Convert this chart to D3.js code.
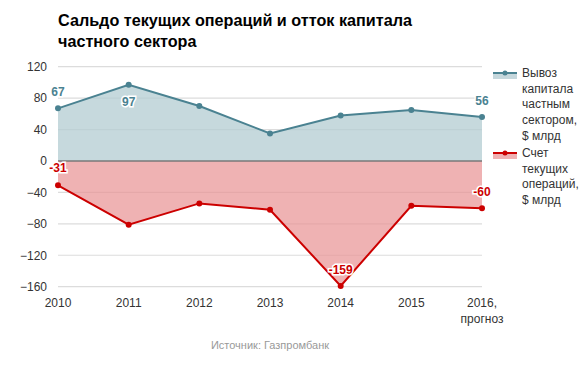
<!DOCTYPE html>
<html>
<head>
<meta charset="utf-8">
<script src="https://cdnjs.cloudflare.com/ajax/libs/d3/7.8.5/d3.min.js"></script>
<style>
  body { margin: 0; background: #fff; }
  text { font-family: "Liberation Sans", Arial, sans-serif; }
</style>
</head>
<body>
<script>
// data
var years = ["2010", "2011", "2012", "2013", "2014", "2015", "2016"];
var yearLabels = [["2010"], ["2011"], ["2012"], ["2013"], ["2014"], ["2015"], ["2016,", "прогноз"]];
var capitalOutflow = [67, 97, 70, 35, 58, 65, 56];
var currentAccount = [-31, -81, -54, -62, -159, -57, -60];
var yTicks = [120, 80, 40, 0, -40, -80, -120, -160];

var legendOutflow = ["Вывоз", "капитала", "частным", "сектором,", "$ млрд"];
var legendAccount = ["Счет", "текущих", "операций,", "$ млрд"];

// sizes
var width = 587, height = 367;
var plot = { left: 58, right: 482, top: 66.7, bottom: 286.7 };

var svg = d3.select("body")
            .append("svg")
            .attr("width", width)
            .attr("height", height);

// title
svg.append("text")
   .attr("x", 58).attr("y", 26)
   .style("font-weight", "bold").style("font-size", "16.2px")
   .text("Сальдо текущих операций и отток капитала");
svg.append("text")
   .attr("x", 58).attr("y", 46.5)
   .style("font-weight", "bold").style("font-size", "16.2px")
   .text("частного сектора");

// scales
var x = d3.scalePoint().domain(years).range([plot.left, plot.right]);
var y = d3.scaleLinear().domain([-160, 120]).range([plot.bottom, plot.top]);

// grid
svg.append("g")
   .selectAll("line")
   .data(yTicks)
   .enter()
   .append("line")
   .attr("x1", plot.left).attr("x2", plot.right)
   .attr("y1", function(d) { return y(d); })
   .attr("y2", function(d) { return y(d); })
   .attr("stroke", "#dcdcdc")
   .attr("stroke-width", 1.2);

// y axis labels
var yAxis = d3.axisLeft(y).tickValues(yTicks).tickSize(0).tickPadding(11);
var gy = svg.append("g")
            .attr("transform", "translate(" + plot.left + ",0)")
            .call(yAxis);
gy.select(".domain").remove();
gy.selectAll("text")
  .style("font-size", "12px").attr("fill", "#333")
  .style("font-family", "Liberation Sans, Arial, sans-serif");

// areas
var areaOut = d3.area()
                .x(function(d, i) { return x(years[i]); })
                .y0(y(0))
                .y1(function(d) { return y(d); });

svg.append("path")
   .datum(capitalOutflow)
   .attr("d", areaOut)
   .attr("fill", "#b6ced4")
   .attr("opacity", 0.78);

svg.append("path")
   .datum(currentAccount)
   .attr("d", areaOut)
   .attr("fill", "#e99496")
   .attr("opacity", 0.72);

// zero line
svg.append("line")
   .attr("x1", plot.left).attr("x2", plot.right)
   .attr("y1", y(0)).attr("y2", y(0))
   .attr("stroke", "#7a7a7a")
   .attr("stroke-width", 1.5);

// lines and points
var line = d3.line()
             .x(function(d, i) { return x(years[i]); })
             .y(function(d) { return y(d); });

function drawSeries(values, color) {
  svg.append("path")
     .datum(values)
     .attr("d", line)
     .attr("fill", "none")
     .attr("stroke", color)
     .attr("stroke-width", 2);
  svg.append("g")
     .selectAll("circle")
     .data(values)
     .enter()
     .append("circle")
     .attr("cx", function(d, i) { return x(years[i]); })
     .attr("cy", function(d) { return y(d); })
     .attr("r", 3)
     .attr("fill", color);
}
drawSeries(capitalOutflow, "#4a8291");
drawSeries(currentAccount, "#cc0000");

// value labels
function valueLabel(i, value, dy, color) {
  svg.append("text")
     .attr("x", x(years[i]))
     .attr("y", y(value) + dy)
     .attr("text-anchor", "middle")
     .style("font-size", "12px")
     .style("font-weight", "bold")
     .attr("fill", color)
     .attr("stroke", "#fff")
     .attr("stroke-width", 3)
     .attr("paint-order", "stroke")
     .text(value);
}
valueLabel(0, capitalOutflow[0], -12, "#4a8291");
valueLabel(1, capitalOutflow[1], 21, "#4a8291");
valueLabel(6, capitalOutflow[6], -12, "#4a8291");
valueLabel(0, currentAccount[0], -13, "#cc0000");
valueLabel(4, currentAccount[4], -12, "#cc0000");
valueLabel(6, currentAccount[6], -12, "#cc0000");

// x axis labels
var xl = svg.append("g")
            .selectAll("text")
            .data(years)
            .enter()
            .append("text")
            .attr("x", function(d) { return x(d); })
            .attr("y", plot.bottom + 20)
            .attr("text-anchor", "middle")
            .style("font-size", "12px")
            .attr("fill", "#333");
xl.selectAll("tspan")
  .data(function(d, i) { return yearLabels[i]; })
  .enter()
  .append("tspan")
  .attr("x", function() { return x(d3.select(this.parentNode).datum()); })
  .attr("dy", function(d, i) { return i === 0 ? 0 : 16; })
  .text(function(d) { return d; });

// legend
function legendItem(top, color, fill, lines) {
  var g = svg.append("g").attr("transform", "translate(493," + top + ")");
  g.append("rect")
   .attr("x", 0).attr("y", 0).attr("width", 24).attr("height", 6)
   .attr("fill", fill);
  g.append("line")
   .attr("x1", 0).attr("x2", 24).attr("y1", 0).attr("y2", 0)
   .attr("stroke", color).attr("stroke-width", 2);
  g.append("circle").attr("cx", 12).attr("cy", 0).attr("r", 2.5).attr("fill", color);
  g.selectAll("text")
   .data(lines)
   .enter()
   .append("text")
   .attr("x", 29)
   .attr("y", function(d, i) { return 4 + i * 15.7; })
   .style("font-size", "12px")
   .attr("fill", "#333")
   .text(function(d) { return d; });
}
legendItem(73, "#4a8291", "#c5d7dc", legendOutflow);
legendItem(153, "#cc0000", "#efb1b2", legendAccount);

// source
svg.append("text")
   .attr("x", 270).attr("y", 349)
   .attr("text-anchor", "middle")
   .style("font-size", "11px")
   .attr("fill", "#999")
   .text("Источник: Газпромбанк");
</script>
</body>
</html>
